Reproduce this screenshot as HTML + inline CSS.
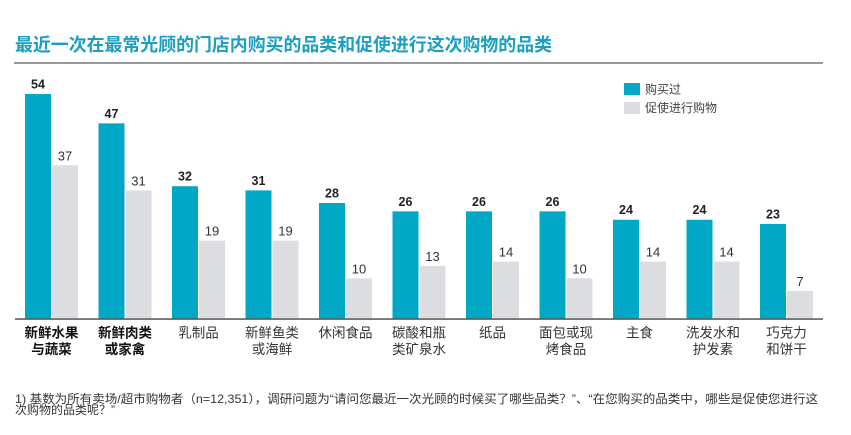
<!DOCTYPE html>
<html><head><meta charset="utf-8">
<style>
html,body{margin:0;padding:0;background:#fff;}
svg{display:block;}
text{font-family:"Liberation Sans","Noto Sans CJK SC",sans-serif;}
</style></head>
<body>
<svg width="851" height="435" viewBox="0 0 851 435" xmlns="http://www.w3.org/2000/svg">
<rect width="851" height="435" fill="#fff"/>
<text x="15" y="51" font-size="18" font-weight="bold" fill="#1a9fc2" textLength="537" lengthAdjust="spacingAndGlyphs">最近一次在最常光顾的门店内购买的品类和促使进行这次购物的品类</text>
<rect x="14" y="62" width="809" height="2" fill="#9a9a9a"/>

<!-- legend -->
<rect x="624" y="83" width="16" height="12" fill="#00a8c6"/>
<text x="645" y="93.5" font-size="12" fill="#444">购买过</text>
<rect x="624" y="102" width="16" height="12" fill="#dcdde0"/>
<text x="645" y="112" font-size="12" fill="#444">促使进行购物</text>

<!-- teal bars -->
<g fill="#00a8c6">
<rect x="25" y="94.04" width="26" height="224.96"/>
<rect x="98.5" y="123.37" width="26" height="195.63"/>
<rect x="172" y="186.22" width="26" height="132.78"/>
<rect x="245.5" y="190.41" width="26" height="128.59"/>
<rect x="319" y="202.98" width="26" height="116.02"/>
<rect x="392.5" y="211.36" width="26" height="107.64"/>
<rect x="466" y="211.36" width="26" height="107.64"/>
<rect x="539.5" y="211.36" width="26" height="107.64"/>
<rect x="613" y="219.74" width="26" height="99.26"/>
<rect x="686.5" y="219.74" width="26" height="99.26"/>
<rect x="760" y="223.93" width="26" height="95.07"/>
</g>
<!-- gray bars -->
<g fill="#dcdde0">
<rect x="52" y="165.27" width="26" height="153.73"/>
<rect x="125.5" y="190.41" width="26" height="128.59"/>
<rect x="199" y="240.69" width="26" height="78.31"/>
<rect x="272.5" y="240.69" width="26" height="78.31"/>
<rect x="346" y="278.4" width="26" height="40.6"/>
<rect x="419.5" y="265.83" width="26" height="53.17"/>
<rect x="493" y="261.64" width="26" height="57.36"/>
<rect x="566.5" y="278.4" width="26" height="40.6"/>
<rect x="640" y="261.64" width="26" height="57.36"/>
<rect x="713.5" y="261.64" width="26" height="57.36"/>
<rect x="787" y="290.97" width="26" height="28.03"/>
</g>

<!-- teal values -->
<g font-size="12.5" font-weight="bold" fill="#222" text-anchor="middle">
<text x="38" y="88.5">54</text>
<text x="111.5" y="117.9">47</text>
<text x="185" y="180.7">32</text>
<text x="258.5" y="184.9">31</text>
<text x="332" y="197.5">28</text>
<text x="405.5" y="205.9">26</text>
<text x="479" y="205.9">26</text>
<text x="552.5" y="205.9">26</text>
<text x="626" y="214.2">24</text>
<text x="699.5" y="214.2">24</text>
<text x="773" y="218.4">23</text>
</g>
<!-- gray values -->
<g font-size="13" fill="#333" text-anchor="middle">
<text x="65" y="160.3">37</text>
<text x="138.5" y="185.4">31</text>
<text x="212" y="235.7">19</text>
<text x="285.5" y="235.7">19</text>
<text x="359" y="273.4">10</text>
<text x="432.5" y="260.8">13</text>
<text x="506" y="256.6">14</text>
<text x="579.5" y="273.4">10</text>
<text x="653" y="256.6">14</text>
<text x="726.5" y="256.6">14</text>
<text x="800" y="286">7</text>
</g>

<rect x="15" y="318.3" width="808" height="1.5" fill="#555"/>

<!-- category labels -->
<g font-size="13.5" text-anchor="middle" font-weight="bold" fill="#111">
<text x="51.5" y="337.5">新鲜水果</text>
<text x="51.5" y="354">与蔬菜</text>
<text x="125" y="337.5">新鲜肉类</text>
<text x="125" y="354">或家禽</text>
</g>
<g font-size="13.5" text-anchor="middle" fill="#333">
<text x="198.5" y="337.5">乳制品</text>
<text x="272" y="337.5">新鲜鱼类</text>
<text x="272" y="354">或海鲜</text>
<text x="345.5" y="337.5">休闲食品</text>
<text x="419" y="337.5">碳酸和瓶</text>
<text x="419" y="354">类矿泉水</text>
<text x="492.5" y="337.5">纸品</text>
<text x="566" y="337.5">面包或现</text>
<text x="566" y="354">烤食品</text>
<text x="639.5" y="337.5">主食</text>
<text x="713" y="337.5">洗发水和</text>
<text x="713" y="354">护发素</text>
<text x="786.5" y="337.5">巧克力</text>
<text x="786.5" y="354">和饼干</text>
</g>

<text font-size="12" fill="#333">
<tspan x="15" y="403" textLength="803" lengthAdjust="spacingAndGlyphs">1) 基数为所有卖场/超市购物者（n=12,351），调研问题为“请问您最近一次光顾的时候买了哪些品类？”、“在您购买的品类中，哪些是促使您进行这</tspan>
<tspan x="15" y="414">次购物的品类呢？”</tspan>
</text>
</svg>
</body></html>
